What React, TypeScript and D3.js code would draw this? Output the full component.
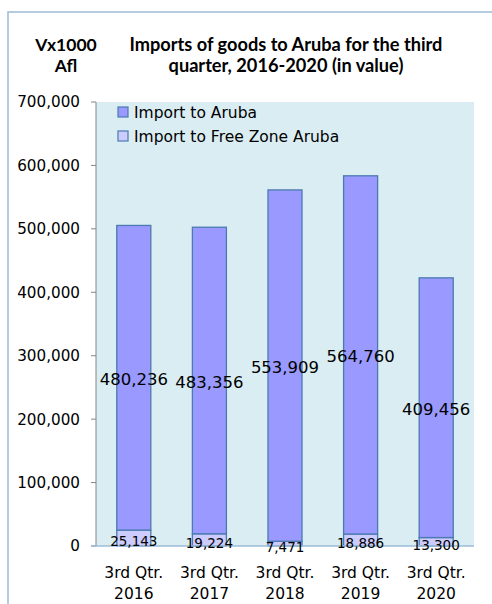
import React from 'react'
import * as d3 from 'd3'

// chart data
const categories = ['2016', '2017', '2018', '2019', '2020']
const importAruba = [480236, 483356, 553909, 564760, 409456]
const importFreeZone = [25143, 19224, 7471, 18886, 13300]
const yTicks = [0, 100000, 200000, 300000, 400000, 500000, 600000, 700000]
const seriesNames = ['Import to Aruba', 'Import to Free Zone Aruba']

const W = 492
const H = 604
const plot = { left: 96, right: 474, top: 102, bottom: 546 }

const colAruba = '#9999ff'
const colFree = '#ccccff'
const colStroke = '#4a7ab0'
const labelFont = '"DejaVu Sans", sans-serif'
const titleFont = 'Lato, "Open Sans", sans-serif'

export default function App() {
  const x = d3.scaleBand<string>()
    .domain(categories)
    .range([plot.left, plot.right])
    .paddingInner(0.55)
    .paddingOuter(0.275)

  const y = d3.scaleLinear()
    .domain([0, 700000])
    .range([plot.bottom, plot.top])

  const fmt = d3.format(',')
  const bw = x.bandwidth()

  return (
    <svg width={W} height={H} style={{ position: 'absolute', left: 0, top: 0, background: '#fff' }}>
      {/* outer chart border */}
      <path d={`M8,${H + 5}V12H${W + 5}`} fill="none" stroke="#9dbbd8" strokeWidth={1.5} />

      {/* titles */}
      <text x={66} y={51} textAnchor="middle" fontFamily={titleFont} fontWeight="bold" fontSize={17.5}>Vx1000</text>
      <text x={66} y={72} textAnchor="middle" fontFamily={titleFont} fontWeight="bold" fontSize={17.5}>Afl</text>
      <text x={286} y={51} textAnchor="middle" fontFamily={titleFont} fontWeight="bold" fontSize={18.2}>Imports of goods to Aruba for the third</text>
      <text x={286} y={72} textAnchor="middle" fontFamily={titleFont} fontWeight="bold" fontSize={18.2}>quarter, 2016-2020 (in value)</text>

      {/* plot area */}
      <rect x={plot.left} y={plot.top} width={plot.right - plot.left} height={plot.bottom - plot.top} fill="#daedf3" />

      {/* y axis */}
      <line x1={plot.left} x2={plot.left} y1={plot.top} y2={plot.bottom} stroke="#868686" />
      {yTicks.map(t => (
        <g key={t}>
          <line x1={plot.left - 5} x2={plot.left} y1={y(t)} y2={y(t)} stroke="#868686" />
          <text x={80} y={y(t)} dy="0.36em" textAnchor="end" fontFamily={labelFont} fontSize={15.2}>{fmt(t)}</text>
        </g>
      ))}

      {/* bars */}
      {categories.map((c, i) => {
        const x0 = x(c)!
        const f = importFreeZone[i]
        const a = importAruba[i]
        return (
          <g key={c}>
            <rect x={x0} y={y(f)} width={bw} height={y(0) - y(f)} fill={colFree} stroke={colStroke} strokeWidth={1.3} />
            <rect x={x0} y={y(f + a)} width={bw} height={y(f) - y(f + a)} fill={colAruba} stroke={colStroke} strokeWidth={1.3} />
          </g>
        )
      })}

      {/* x axis line */}
      <line x1={plot.left - 5} x2={plot.right} y1={plot.bottom} y2={plot.bottom} stroke="#9dbbd8" strokeWidth={1.5} />

      {/* data labels */}
      {categories.map((c, i) => {
        const cx = x(c)! + bw / 2
        const f = importFreeZone[i]
        const a = importAruba[i]
        return (
          <g key={c} fontFamily={labelFont}>
            <text x={cx} y={(y(f) + y(f + a)) / 2 + 1.5} dy="0.36em" textAnchor="middle" fontSize={16.5}>{fmt(a)}</text>
            <text x={cx} y={(y(0) + y(f)) / 2 + 3.5} dy="0.36em" textAnchor="middle" fontSize={13.5}>{fmt(f)}</text>
          </g>
        )
      })}

      {/* x labels */}
      {categories.map(c => (
        <text key={c} x={x(c)! + bw / 2} textAnchor="middle" fontFamily={labelFont} fontSize={15.5}>
          <tspan x={x(c)! + bw / 2} y={578}>3rd Qtr.</tspan>
          <tspan x={x(c)! + bw / 2} y={599}>{c}</tspan>
        </text>
      ))}

      {/* legend */}
      {seriesNames.map((s, i) => (
        <g key={s} transform={`translate(118,${107 + i * 24})`}>
          <rect x={0} y={0} width={10} height={10} fill={i === 0 ? colAruba : colFree} stroke={colStroke} strokeWidth={1.2} />
          <text x={16} y={5} dy="0.36em" fontFamily={labelFont} fontSize={15.5}>{s}</text>
        </g>
      ))}
    </svg>
  )
}
